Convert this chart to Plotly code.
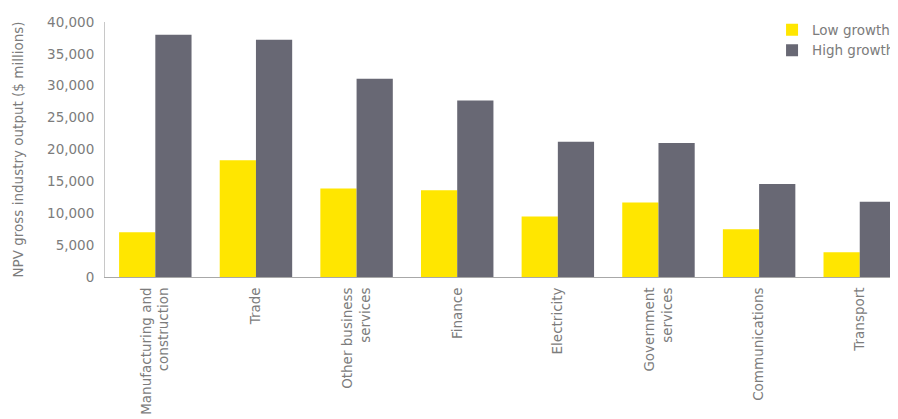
import plotly.graph_objects as go

categories = ["Manufacturing and<br>construction", "Trade", "Other business<br>services", "Finance",
              "Electricity", "Government<br>services", "Communications", "Transport"]
low_growth = [7000, 18300, 13900, 13600, 9500, 11700, 7500, 3900]
high_growth = [38000, 37200, 31100, 27700, 21200, 21000, 14600, 11800]
y_ticks = [0, 5000, 10000, 15000, 20000, 25000, 30000, 35000, 40000]

font_family = "DejaVu Sans"
text_color = "#7c7c7c"

fig = go.Figure()
fig.add_trace(go.Bar(name="Low growth", x=categories, y=low_growth, marker_color="#FFE600",
                     marker_line_width=0))
fig.add_trace(go.Bar(name="High growth", x=categories, y=high_growth, marker_color="#686874",
                     marker_line_width=0))

fig.update_layout(
    width=898, height=419,
    barmode="group", bargap=0.28, bargroupgap=0,
    plot_bgcolor="white", paper_bgcolor="white",
    margin=dict(l=97, r=5, t=14, b=150, autoexpand=False),
    font=dict(family=font_family, size=13.5, color=text_color),
    legend=dict(x=0.838, y=1.03, xanchor="left", yanchor="top",
                font=dict(size=13.5, color=text_color), bgcolor="rgba(0,0,0,0)",
                itemwidth=30, tracegroupgap=0),
    showlegend=True,
)
fig.update_xaxes(
    range=[-0.5, 7.41], tickangle=-90, showline=True, linecolor="#a8a8a8", linewidth=1,
    showgrid=False, ticks="", tickfont=dict(size=13.5, color=text_color), automargin=False,
    ticklabelstandoff=4,
)
fig.update_yaxes(
    range=[0, 40000], tickvals=y_ticks, tickformat=",", showline=True, linecolor="#c8c8c8",
    linewidth=1, showgrid=False, zeroline=False, ticks="", ticklen=0,
    tickfont=dict(size=13.5, color=text_color), automargin=False, ticklabelstandoff=7,
    title=dict(text="NPV gross industry output ($ millions)", font=dict(size=13.5, color=text_color),
               standoff=20),
)

fig.write_html("out.html")
